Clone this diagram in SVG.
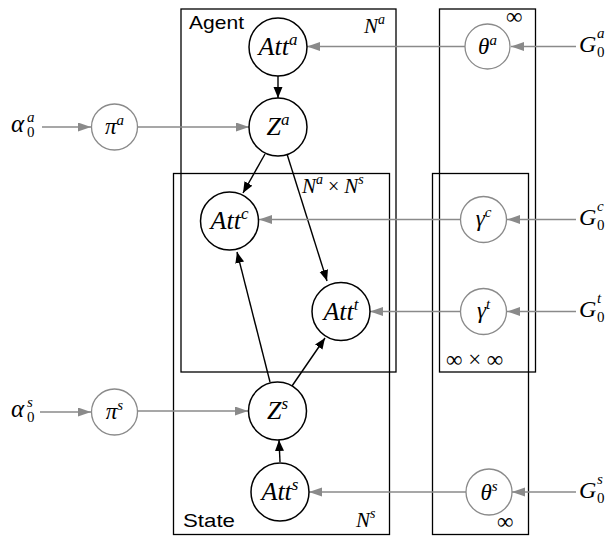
<svg xmlns="http://www.w3.org/2000/svg" width="614" height="536" viewBox="0 0 614 536">
<style>
.plate{fill:none;stroke:#000;stroke-width:1.3}
.bn{fill:#fff;stroke:#000;stroke-width:1.5}
.gn{fill:#fff;stroke:#8a8a8a;stroke-width:1.3}
.be{fill:none;stroke:#000;stroke-width:1.4}
.ge{fill:none;stroke:#8a8a8a;stroke-width:1.6}
</style>
<defs>
<marker id="ab" markerUnits="userSpaceOnUse" markerWidth="12" markerHeight="10" refX="11" refY="4.5" orient="auto"><path d="M0,0 L11,4.5 L0,9 z" fill="#000"/></marker>
<marker id="ag" markerUnits="userSpaceOnUse" markerWidth="14" markerHeight="10" refX="13" refY="4.5" orient="auto"><path d="M0,0 L13,4.5 L0,9 z" fill="#8a8a8a"/></marker>
</defs>
<rect width="614" height="536" fill="#fff"/>
<g id="plates">
<rect id="plate-agent" class="plate" x="181" y="9" width="215" height="363"/>
<rect id="plate-state" class="plate" x="173.5" y="173.5" width="216" height="361"/>
<rect id="plate-inf1" class="plate" x="439.5" y="9" width="96" height="363"/>
<rect id="plate-inf2" class="plate" x="432.5" y="173.5" width="96" height="361"/>
<g font-family="Liberation Sans, Arial, sans-serif" font-size="19" fill="#000">
<text x="189" y="29" textLength="55" lengthAdjust="spacingAndGlyphs">Agent</text>
<text x="183" y="527" textLength="52" lengthAdjust="spacingAndGlyphs">State</text>
</g>
<g font-family="Liberation Serif, serif" fill="#000">
<text x="364" y="33" font-size="21" font-style="italic">N<tspan font-size="14" dy="-9">a</tspan></text>
<text x="302" y="193" font-size="21" font-style="italic">N<tspan font-size="14" dy="-9">a</tspan><tspan font-size="20" dy="9" font-style="normal"> × </tspan>N<tspan font-size="14" dy="-9">s</tspan></text>
<text x="356" y="527" font-size="21" font-style="italic">N<tspan font-size="14" dy="-9">s</tspan></text>
<text x="506" y="24" font-size="23">∞</text>
<text x="446" y="367" font-size="23">∞ × ∞</text>
<text x="497" y="529" font-size="23">∞</text>
</g>
</g>
<g id="connectors">
<line class="be" x1="278" y1="76" x2="278" y2="98" marker-end="url(#ab)"/>
<line class="be" x1="265" y1="154" x2="243" y2="193" marker-end="url(#ab)"/>
<line class="be" x1="287" y1="154" x2="327" y2="281" marker-end="url(#ab)"/>
<line class="be" x1="270" y1="382" x2="237" y2="252" marker-end="url(#ab)"/>
<line class="be" x1="292" y1="386" x2="325" y2="338" marker-end="url(#ab)"/>
<line class="be" x1="280" y1="462" x2="279" y2="440" marker-end="url(#ab)"/>
<line class="ge" x1="576" y1="46.5" x2="511" y2="46.5" marker-end="url(#ag)"/>
<line class="ge" x1="465" y1="46.5" x2="307" y2="46.5" marker-end="url(#ag)"/>
<line class="ge" x1="42" y1="127" x2="91" y2="127" marker-end="url(#ag)"/>
<line class="ge" x1="137" y1="127" x2="249" y2="127" marker-end="url(#ag)"/>
<line class="ge" x1="576" y1="219.5" x2="507" y2="219.5" marker-end="url(#ag)"/>
<line class="ge" x1="460" y1="219.5" x2="259" y2="219.5" marker-end="url(#ag)"/>
<line class="ge" x1="576" y1="311.5" x2="507" y2="311.5" marker-end="url(#ag)"/>
<line class="ge" x1="460" y1="311.5" x2="370" y2="311.5" marker-end="url(#ag)"/>
<line class="ge" x1="40" y1="412" x2="91" y2="412" marker-end="url(#ag)"/>
<line class="ge" x1="137" y1="411" x2="248" y2="411" marker-end="url(#ag)"/>
<line class="ge" x1="576" y1="492" x2="512" y2="492" marker-end="url(#ag)"/>
<line class="ge" x1="466" y1="492" x2="309" y2="492" marker-end="url(#ag)"/>
</g>
<g font-family="Liberation Serif, serif" font-style="italic" fill="#000">
<g id="node-att-a"><circle class="bn" cx="278" cy="47" r="29"/><text x="278" y="55" font-size="26" text-anchor="middle">Att<tspan font-size="17" dy="-10">a</tspan></text></g>
<g id="node-z-a"><circle class="bn" cx="278" cy="127" r="29"/><text x="278" y="135" font-size="26" text-anchor="middle">Z<tspan font-size="17" dy="-10">a</tspan></text></g>
<g id="node-att-c"><circle class="bn" cx="229.5" cy="221" r="29"/><text x="229.5" y="229" font-size="26" text-anchor="middle">Att<tspan font-size="17" dy="-10">c</tspan></text></g>
<g id="node-att-t"><circle class="bn" cx="341" cy="311.5" r="29"/><text x="341" y="319.5" font-size="26" text-anchor="middle">Att<tspan font-size="17" dy="-10">t</tspan></text></g>
<g id="node-z-s"><circle class="bn" cx="277.5" cy="411" r="29"/><text x="277.5" y="419" font-size="26" text-anchor="middle">Z<tspan font-size="17" dy="-10">s</tspan></text></g>
<g id="node-att-s"><circle class="bn" cx="280" cy="492" r="29"/><text x="280" y="500" font-size="26" text-anchor="middle">Att<tspan font-size="17" dy="-10">s</tspan></text></g>
<g id="node-pi-a"><circle class="gn" cx="114.5" cy="127" r="23"/><text x="114.5" y="134" font-size="23" text-anchor="middle">π<tspan font-size="15" dy="-9">a</tspan></text></g>
<g id="node-pi-s"><circle class="gn" cx="114.5" cy="412" r="23"/><text x="114.5" y="419" font-size="23" text-anchor="middle">π<tspan font-size="15" dy="-9">s</tspan></text></g>
<g id="node-theta-a"><circle class="gn" cx="487.5" cy="46.5" r="22.5"/><text x="487.5" y="54" font-size="23" text-anchor="middle">θ<tspan font-size="15" dy="-9">a</tspan></text></g>
<g id="node-gamma-c"><circle class="gn" cx="483.5" cy="219.5" r="23"/><text x="483.5" y="226" font-size="23" text-anchor="middle">γ<tspan font-size="15" dy="-9">c</tspan></text></g>
<g id="node-gamma-t"><circle class="gn" cx="483.5" cy="311.5" r="23"/><text x="483.5" y="318" font-size="23" text-anchor="middle">γ<tspan font-size="15" dy="-9">t</tspan></text></g>
<g id="node-theta-s"><circle class="gn" cx="489" cy="492" r="23"/><text x="489" y="499.5" font-size="23" text-anchor="middle">θ<tspan font-size="15" dy="-9">s</tspan></text></g>
<g id="node-alpha-a"><text x="11" y="132" font-size="25">α</text><text x="27" y="122" font-size="15">a</text><text x="27" y="137" font-size="15" font-style="normal">0</text></g>
<g id="node-alpha-s"><text x="11" y="417" font-size="25">α</text><text x="27" y="407" font-size="15">s</text><text x="27" y="422" font-size="15" font-style="normal">0</text></g>
<g id="node-g-a"><text x="579" y="52" font-size="24">G</text><text x="597" y="38" font-size="15">a</text><text x="597" y="57" font-size="15" font-style="normal">0</text></g>
<g id="node-g-c"><text x="579" y="225" font-size="24">G</text><text x="597" y="211" font-size="15">c</text><text x="597" y="230" font-size="15" font-style="normal">0</text></g>
<g id="node-g-t"><text x="579" y="317" font-size="24">G</text><text x="597" y="303" font-size="15">t</text><text x="597" y="322" font-size="15" font-style="normal">0</text></g>
<g id="node-g-s"><text x="579" y="498" font-size="24">G</text><text x="597" y="484" font-size="15">s</text><text x="597" y="503" font-size="15" font-style="normal">0</text></g>
</g>
</svg>
